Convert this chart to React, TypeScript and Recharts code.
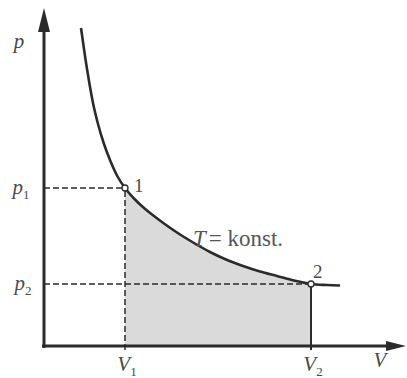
import React from "react";
import { ComposedChart, Line, Area, XAxis, YAxis, ReferenceLine, ReferenceDot, Scatter } from "recharts";

// isotherm (V, p in drawing units, origin at the axes corner)
const curveV = [37, 41, 45, 49, 54, 60, 66, 73, 81, 90, 100, 110, 120, 133, 150, 166, 182, 199, 216, 233, 250, 267, 283, 296];
const curveP = [318, 290, 265, 243, 222, 202, 186, 170.5, 158, 147.5, 138, 130, 122.5, 113.5, 103, 94, 86.5, 80, 74.5, 70, 65.5, 62, 61, 60.5];

const V1 = 81;
const V2 = 267;
const P1 = 158;
const P2 = 62;

const AXIS_V_MAX = 362;
const AXIS_P_MAX = 338;

const INK = "#2b2b2b";
const TEXT = "#4a4a4a";
const FONT = "'Liberation Serif', 'DejaVu Serif', serif";

const curve = curveV.map((v, i) => ({ V: v, p: curveP[i] }));
const shaded = curve.filter((d) => d.V >= V1 && d.V <= V2);
const states = [
	{ V: V1, p: P1 },
	{ V: V2, p: P2 },
];

function arrowLine(len: number, half: number) {
	return (props: any) => {
		const { x1, y1, x2, y2 } = props;
		const a = Math.atan2(y2 - y1, x2 - x1);
		const bx = x2 - len * Math.cos(a);
		const by = y2 - len * Math.sin(a);
		const px = -Math.sin(a) * half;
		const py = Math.cos(a) * half;
		return (
			<g>
				<line x1={x1} y1={y1} x2={bx + 2 * Math.cos(a)} y2={by + 2 * Math.sin(a)} stroke={INK} strokeWidth={3} />
				<polygon points={`${x2},${y2} ${bx + px},${by + py} ${bx - px},${by - py}`} fill={INK} />
			</g>
		);
	};
}

function label(main: string, sub?: string, italic = true, size = 21, anchor: "start" | "middle" = "middle") {
	return (props: any) => (
		<text
			x={props.cx}
			y={props.cy}
			textAnchor={anchor}
			fontFamily={FONT}
			fontSize={size}
			fontStyle={italic ? "italic" : "normal"}
			fill={TEXT}
		>
			{main}
			{sub && (
				<tspan fontSize={size * 0.62} fontStyle="normal" dy={5}>
					{sub}
				</tspan>
			)}
		</text>
	);
}

function StatePoint(props: any) {
	return <circle cx={props.cx} cy={props.cy} r={3} fill="#fff" stroke={INK} strokeWidth={1.3} />;
}

export default function App() {
	return (
		<div style={{ position: "absolute", left: 0, top: 0, background: "#fff" }}>
			<ComposedChart width={407} height={378} margin={{ top: 0, right: 0, bottom: 0, left: 0 }}>
				<XAxis type="number" dataKey="V" domain={[-44, 363]} hide allowDataOverflow />
				<YAxis type="number" dataKey="p" domain={[-32, 346]} hide allowDataOverflow />

				<Area
					data={shaded}
					dataKey="p"
					type="monotone"
					baseValue={0}
					stroke="none"
					fill="#dadada"
					fillOpacity={1}
					dot={false}
					activeDot={false}
					isAnimationActive={false}
				/>

				<ReferenceLine segment={[{ x: 0, y: P1 }, { x: V1, y: P1 }]} stroke={INK} strokeWidth={1.5} strokeDasharray="6 3" />
				<ReferenceLine segment={[{ x: V1, y: -4 }, { x: V1, y: P1 }]} stroke={INK} strokeWidth={1.5} strokeDasharray="6 3" />
				<ReferenceLine segment={[{ x: 0, y: P2 }, { x: V2, y: P2 }]} stroke={INK} strokeWidth={1.5} strokeDasharray="6 3" />
				<ReferenceLine segment={[{ x: V2, y: -4 }, { x: V2, y: P2 }]} stroke={INK} strokeWidth={2} />

				<ReferenceLine segment={[{ x: 0, y: -2 }, { x: 0, y: AXIS_P_MAX }]} shape={arrowLine(24, 6)} />
				<ReferenceLine segment={[{ x: -2, y: 0 }, { x: AXIS_V_MAX, y: 0 }]} shape={arrowLine(20, 5)} />

				<Line
					data={curve}
					dataKey="p"
					type="monotone"
					stroke={INK}
					strokeWidth={2.6}
					dot={false}
					activeDot={false}
					isAnimationActive={false}
				/>

				<Scatter data={states} dataKey="p" shape={StatePoint} isAnimationActive={false} />

				<ReferenceDot x={-25} y={298} r={0} shape={label("p")} />
				<ReferenceDot x={-23} y={152} r={0} shape={label("p", "1")} />
				<ReferenceDot x={-21} y={56} r={0} shape={label("p", "2")} />
				<ReferenceDot x={V1 + 2} y={-25} r={0} shape={label("V", "1")} />
				<ReferenceDot x={V2 + 2} y={-25} r={0} shape={label("V", "2")} />
				<ReferenceDot x={336} y={-21} r={0} shape={label("V")} />
				<ReferenceDot x={V1 + 9} y={P1 - 4} r={0} shape={label("1", undefined, false, 19, "start")} />
				<ReferenceDot x={V2 + 2} y={P2 + 6} r={0} shape={label("2", undefined, false, 19, "start")} />
				<ReferenceDot
					x={149}
					y={100}
					r={0}
					shape={(props: any) => (
						<text x={props.cx} y={props.cy} fontFamily={FONT} fontSize={23} fill="#555">
							<tspan fontStyle="italic">T</tspan>
							<tspan dx={3}>=</tspan>
							<tspan> konst.</tspan>
						</text>
					)}
				/>
			</ComposedChart>
		</div>
	);
}
